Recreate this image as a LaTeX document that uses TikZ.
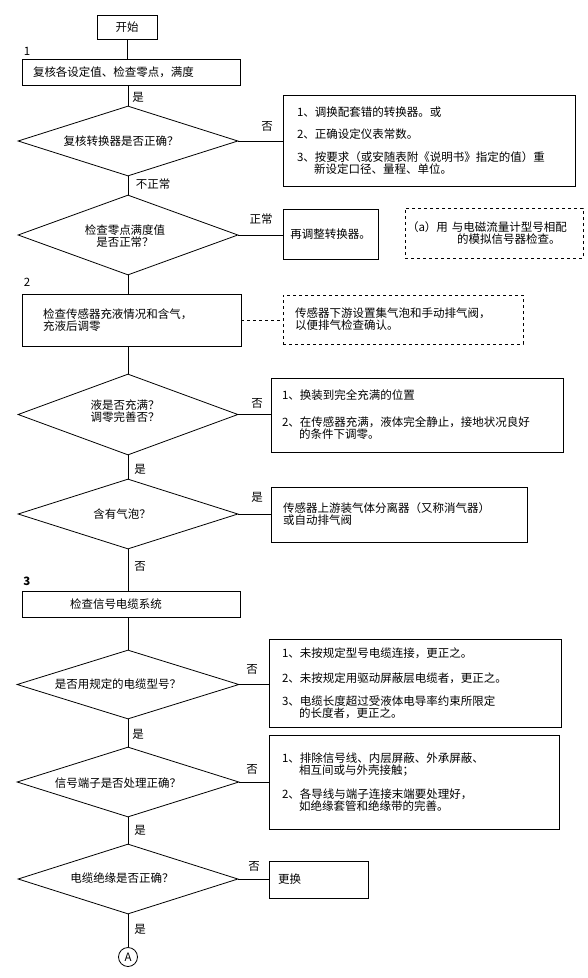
\documentclass[tikz,border=0pt]{standalone}
\usepackage{fontspec}
\setmainfont{Noto Sans CJK SC}
\usetikzlibrary{shapes.geometric,calc}
\tikzset{
 every node/.style={font=\fontsize{11.5}{12}\selectfont},
 ln/.style={line width=0.8pt},
 bx/.style={draw, line width=0.8pt, rectangle, inner ysep=0pt, align=left},
 dbx/.style={bx, dash pattern=on 3pt off 3pt},
 dia/.style={draw, line width=0.8pt, diamond, inner sep=0pt},
 lab/.style={inner sep=0pt, align=center},
}
\begin{document}
\begin{tikzpicture}[x=1pt,y=-1pt]
\fill[white] (0,0) rectangle (587,978);
\useasboundingbox (0,0) rectangle (587,978);

% section labels
\node[lab] (n1) at (27,51) {1};
\node[lab] (n2) at (27,282) {2};
\node[lab] (n3) at (27,581) {\bfseries 3};

% main column
\node[bx, align=center, minimum width=60pt, minimum height=24pt] (start) at (127,27) {开始};
\node[bx, text width=196pt, inner xsep=11pt, minimum height=26pt] (b1) at (131,72) {复核各设定值、检查零点，满度};

\node[dia, minimum width=220pt, minimum height=70pt] (d1) at (128,141) {};
\node[lab] (d1t) at (121,141) {复核转换器是否正确？};

\node[dia, minimum width=220pt, minimum height=80pt] (d2) at (128,235) {};
\node[lab] (d2t) at (125,236) {检查零点满度值\\是否正常？};

\node[bx, text width=177pt, inner xsep=21pt, minimum height=52pt] (b2) at (131.5,320) {检查传感器充液情况和含气，\\充液后调零};

\node[dia, minimum width=220pt, minimum height=81pt] (d3) at (128,414.5) {};
\node[lab] (d3t) at (125,411) {液是否充满？\\调零完善否？};

\node[dia, minimum width=220pt, minimum height=70pt] (d4) at (128,514) {};
\node[lab] (d4t) at (122,514) {含有气泡？};

\node[bx, text width=122pt, inner xsep=48pt, minimum height=26pt] (b3) at (131,604) {检查信号电缆系统};

\node[dia, minimum width=222pt, minimum height=69pt] (d5) at (128,684.5) {};
\node[lab] (d5t) at (118,684) {是否用规定的电缆型号？};

\node[dia, minimum width=222pt, minimum height=70pt] (d6) at (128,782) {};
\node[lab] (d6t) at (118,783) {信号端子是否处理正确？};

\node[dia, minimum width=220pt, minimum height=70pt] (d7) at (128,879) {};
\node[lab] (d7t) at (122,878) {电缆绝缘是否正确？};

\node[draw, circle, line width=0.8pt, minimum size=19pt, inner sep=0pt] (ca) at (128,957) {A};

% side boxes
\node[bx, text width=264pt, inner xsep=14pt, minimum height=91pt] (a1) at (429,140.5) {1、调换配套错的转换器。或\\[10.5pt]2、正确设定仪表常数。\\[11pt]3、按要求（或安随表附《说明书》指定的值）重\\\hspace*{17pt}新设定口径、量程、单位。};

\node[bx, align=center, minimum width=95pt, minimum height=50pt] (r1) at (330.5,234) {再调整转换器。};

\node[dbx, text width=174pt, inner xsep=2pt, minimum height=50pt] (ra) at (494,233) {（a）用 与电磁流量计型号相配\\\hspace*{50pt}的模拟信号器检查。};

\node[dbx, text width=216pt, inner xsep=12pt, minimum height=49pt] (rb) at (403,319.5) {传感器下游设置集气泡和手动排气阀，\\以便排气检查确认。};

\node[bx, text width=270pt, inner xsep=11pt, minimum height=74pt] (c) at (417,415) {1、换装到完全充满的位置\\[15pt]2、在传感器充满，液体完全静止，接地状况良好\\\hspace*{17pt}的条件下调零。};

\node[bx, text width=232pt, inner xsep=12pt, minimum height=55pt] (dd) at (399,514.5) {传感器上游装气体分离器（又称消气器）\\或自动排气阀};

\node[bx, text width=266pt, inner xsep=13pt, minimum height=88pt] (e) at (415,683) {1、未按规定型号电缆连接，更正之。\\[13pt]2、未按规定用驱动屏蔽层电缆者，更正之。\\[11pt]3、电缆长度超过受液体电导率约束所限定\\\hspace*{17pt}的长度者，更正之。};

\node[bx, text width=264pt, inner xsep=13pt, minimum height=94pt] (f) at (414,782) {1、排除信号线、内层屏蔽、外承屏蔽、\\\hspace*{17pt}相互间或与外壳接触；\\[12pt]2、各导线与端子连接末端要处理好，\\\hspace*{17pt}如绝缘套管和绝缘带的完善。};

\node[bx, text width=81pt, inner xsep=9pt, minimum height=37pt] (g) at (318.5,879.5) {更换};

% connectors
\draw[ln] (start.south) -- (start.south |- b1.north);
\draw[ln] (d1.north) -- (d1.north |- b1.south);
\draw[ln] (d1.east) -- (d1.east -| a1.west);
\draw[ln] (d1.south) -- (d2.north);
\draw[ln] (d2.east) -- (d2.east -| r1.west);
\draw[ln] (d2.south) -- (d2.south |- b2.north);
\draw[ln, dash pattern=on 3pt off 3pt] (b2.east) -- (b2.east -| rb.west);
\draw[ln] (d3.north) -- (d3.north |- b2.south);
\draw[ln] (d3.east) -- (d3.east -| c.west);
\draw[ln] (d3.south) -- (d4.north);
\draw[ln] (d4.east) -- (d4.east -| dd.west);
\draw[ln] (d4.south) -- (d4.south |- b3.north);
\draw[ln] (d5.north) -- (d5.north |- b3.south);
\draw[ln] (d5.east) -- (d5.east -| e.west);
\draw[ln] (d5.south) -- (d6.north);
\draw[ln] (d6.east) -- (d6.east -| f.west);
\draw[ln] (d6.south) -- (d7.north);
\draw[ln] (d7.east) -- (d7.east -| g.west);
\draw[ln] (d7.south) -- (ca.north);

% connector labels
\node[lab] (l1) at (138,97) {是};
\node[lab] (l2) at (267,126) {否};
\node[lab] (l3) at (153,184) {不正常};
\node[lab] (l4) at (261,219) {正常};
\node[lab] (l5) at (257,403) {否};
\node[lab] (l6) at (140,469) {是};
\node[lab] (l7) at (257,497) {是};
\node[lab] (l8) at (140,566) {否};
\node[lab] (l9) at (252,669) {否};
\node[lab] (l10) at (138,734) {是};
\node[lab] (l11) at (252,769) {否};
\node[lab] (l12) at (140,830) {是};
\node[lab] (l13) at (254,866) {否};
\node[lab] (l14) at (140,929) {是};
\end{tikzpicture}
\end{document}
